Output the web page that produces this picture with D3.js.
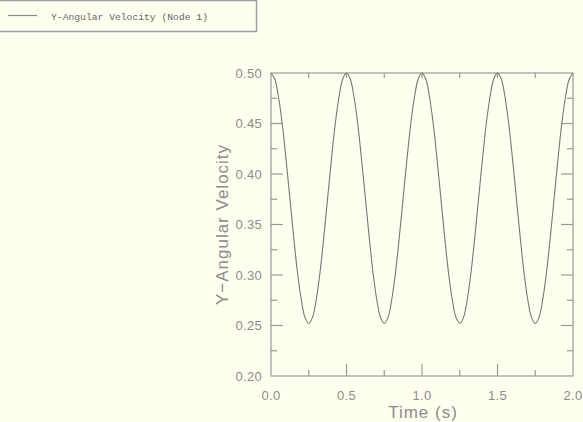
<!DOCTYPE html>
<html>
<head>
<meta charset="utf-8">
<script src="https://cdn.jsdelivr.net/npm/d3@7"></script>
<style>
  html, body { margin: 0; padding: 0; background: #ffffef; }
  svg { display: block; }
</style>
</head>
<body>
<div id="chart"></div>
<script>
// Time samples (s), every 0.025 s
const times = d3.range(0, 81).map(i => +(i * 0.025).toFixed(3));
// Y-angular velocity, one value per time sample
const velocity = [
  0.500, 0.494, 0.476, 0.449, 0.414, 0.376, 0.338, 0.303, 0.276, 0.258,
  0.252, 0.258, 0.276, 0.303, 0.338, 0.376, 0.414, 0.449, 0.476, 0.494,
  0.500, 0.494, 0.476, 0.449, 0.414, 0.376, 0.338, 0.303, 0.276, 0.258,
  0.252, 0.258, 0.276, 0.303, 0.338, 0.376, 0.414, 0.449, 0.476, 0.494,
  0.500, 0.494, 0.476, 0.449, 0.414, 0.376, 0.338, 0.303, 0.276, 0.258,
  0.252, 0.258, 0.276, 0.303, 0.338, 0.376, 0.414, 0.449, 0.476, 0.494,
  0.500, 0.494, 0.476, 0.449, 0.414, 0.376, 0.338, 0.303, 0.276, 0.258,
  0.252, 0.258, 0.276, 0.303, 0.338, 0.376, 0.414, 0.449, 0.476, 0.494,
  0.500
];
const xTicks = [0, 0.5, 1.0, 1.5, 2.0];
const yTicks = [0.20, 0.25, 0.30, 0.35, 0.40, 0.45, 0.50];
const legendLabel = 'Y-Angular Velocity (Node 1)';

const W = 583, H = 422;
const frame = { left: 271, right: 573, top: 73, bottom: 376 };
const axisColor = '#999';
const textColor = '#8c8c8c';
const fontSans = 'Liberation Sans, Arial, sans-serif';

const svg = d3.select('#chart').append('svg')
  .attr('width', W)
  .attr('height', H);

svg.append('rect').attr('width', W).attr('height', H).attr('fill', '#ffffef');

const x = d3.scaleLinear().domain([0, 2]).range([frame.left, frame.right]);
const y = d3.scaleLinear().domain([0.2, 0.5]).range([frame.bottom, frame.top]);

// Frame
svg.append('rect')
  .attr('x', frame.left)
  .attr('y', frame.top)
  .attr('width', frame.right - frame.left)
  .attr('height', frame.bottom - frame.top)
  .attr('fill', 'none')
  .attr('stroke', axisColor)
  .attr('stroke-width', 1.2);

const minorX = d3.range(0.25, 2, 0.5);
const minorY = d3.range(0.225, 0.5, 0.05);

// Ticks, all pointing into the plot
const ticks = svg.append('g').attr('stroke', axisColor).attr('stroke-width', 1.2);
xTicks.slice(1, -1).forEach((t) => {
  ticks.append('line').attr('x1', x(t)).attr('x2', x(t)).attr('y1', frame.bottom).attr('y2', frame.bottom - 12);
  ticks.append('line').attr('x1', x(t)).attr('x2', x(t)).attr('y1', frame.top).attr('y2', frame.top + 5);
});
minorX.forEach((t) => {
  ticks.append('line').attr('x1', x(t)).attr('x2', x(t)).attr('y1', frame.bottom).attr('y2', frame.bottom - 6);
  ticks.append('line').attr('x1', x(t)).attr('x2', x(t)).attr('y1', frame.top).attr('y2', frame.top + 5);
});
yTicks.slice(1, -1).forEach((t) => {
  ticks.append('line').attr('x1', frame.left).attr('x2', frame.left + 12).attr('y1', y(t)).attr('y2', y(t));
  ticks.append('line').attr('x1', frame.right).attr('x2', frame.right - 12).attr('y1', y(t)).attr('y2', y(t));
});
minorY.forEach((t) => {
  ticks.append('line').attr('x1', frame.left).attr('x2', frame.left + 6).attr('y1', y(t)).attr('y2', y(t));
  ticks.append('line').attr('x1', frame.right).attr('x2', frame.right - 6).attr('y1', y(t)).attr('y2', y(t));
});

// Tick labels
svg.append('g').selectAll('text')
  .data(yTicks)
  .enter()
  .append('text')
  .attr('x', frame.left - 9)
  .attr('y', d => y(d))
  .attr('dy', '0.36em')
  .attr('text-anchor', 'end')
  .style('font-family', fontSans)
  .style('font-size', '13px')
  .style('letter-spacing', '0.3px')
  .attr('fill', textColor)
  .text(d => d.toFixed(2));

svg.append('g').selectAll('text')
  .data(xTicks)
  .enter()
  .append('text')
  .attr('x', d => x(d))
  .attr('y', frame.bottom + 24)
  .attr('text-anchor', 'middle')
  .style('font-family', fontSans)
  .style('font-size', '13px')
  .style('letter-spacing', '0.3px')
  .attr('fill', textColor)
  .text(d => d.toFixed(1));

// Axis titles
svg.append('text')
  .attr('x', (frame.left + frame.right) / 2 + 1)
  .attr('y', 418)
  .attr('text-anchor', 'middle')
  .style('font-family', fontSans)
  .style('font-size', '17px')
  .style('letter-spacing', '1px')
  .attr('fill', textColor)
  .text('Time (s)');

svg.append('text')
  .attr('transform', `translate(228, ${(frame.top + frame.bottom) / 2}) rotate(-90)`)
  .attr('text-anchor', 'middle')
  .style('font-family', fontSans)
  .style('font-size', '17px')
  .style('letter-spacing', '1px')
  .attr('fill', textColor)
  .text('Y\u2212Angular Velocity');

// Curve
const line = d3.line()
  .x((_, i) => x(times[i]))
  .y(d => y(d))
  .curve(d3.curveCatmullRom);

svg.append('path')
  .datum(velocity)
  .attr('d', line)
  .attr('fill', 'none')
  .attr('stroke', '#777')
  .attr('stroke-width', 1.1);

// Legend
const legend = svg.append('g');
legend.append('rect')
  .attr('x', -2)
  .attr('y', 0.5)
  .attr('width', 258.5)
  .attr('height', 31)
  .attr('fill', '#ffffef')
  .attr('stroke', '#a0a0a0')
  .attr('stroke-width', 1.5);
legend.append('line')
  .attr('x1', 8).attr('x2', 37)
  .attr('y1', 15.5).attr('y2', 15.5)
  .attr('stroke', '#8a8a8a')
  .attr('stroke-width', 1.2);
legend.append('text')
  .attr('x', 51)
  .attr('y', 19.5)
  .style('font-family', 'Liberation Mono, Courier New, monospace')
  .style('font-size', '9.7px')
  .attr('fill', '#666')
  .text(legendLabel);
</script>
</body>
</html>
